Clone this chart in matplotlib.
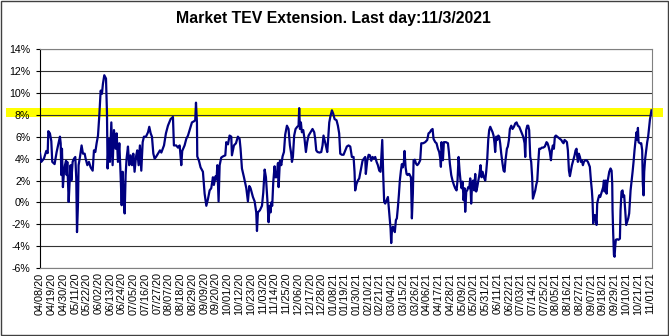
import numpy as np
import pandas as pd
import matplotlib
matplotlib.use("Agg")
import matplotlib.pyplot as plt
import matplotlib.dates as mdates
from matplotlib.patches import Rectangle
from matplotlib.transforms import blended_transform_factory

plt.rcParams.update({
    "font.family": ["Liberation Sans", "DejaVu Sans"],
})

title = "Market TEV Extension. Last day:11/3/2021"
start_day = "2020-04-08"
end_day = "2021-11-03"
label_step = "11D"

# days after start_day, and TEV extension in percent
day_offset = [
    0.0, 1.2, 3.7, 5.9, 7.2, 7.8, 9.3, 10.6, 11.5, 13.7, 15.6, 16.9, 18.7, 19.4, 20.0, 20.6,
    21.5, 22.5, 23.4, 24.4, 25.0, 25.6, 26.9, 27.8, 28.7, 29.4, 30.6, 31.9, 33.1, 34.0, 34.7,
    35.6, 36.2, 37.5, 39.0, 40.3, 41.9, 42.8, 44.4, 45.9, 47.5, 49.4, 50.6, 51.9, 53.1, 54.4,
    55.6, 56.9, 58.1, 59.0, 60.3, 61.9, 62.8, 63.4, 64.4, 65.6, 66.9, 68.1, 69.4, 70.9, 71.9,
    73.1, 74.4, 75.6, 76.6, 77.5, 78.4, 79.4, 80.3, 81.2, 82.5, 83.7, 85.0, 86.3, 87.5, 88.7,
    90.0, 91.2, 92.5, 93.7, 95.0, 96.3, 97.5, 99.4, 101.3, 102.5, 103.8, 105.0, 106.3, 107.5,
    108.8, 110.6, 112.5,
    113.8, 116.3, 118.1, 120.0, 122.5, 124.7, 125.6, 127.8, 129.4, 131.0, 132.5, 133.4, 135.6,
    137.2, 138.8, 141.3, 142.5, 144.4, 145.6, 146.3, 147.2, 147.5, 149.1, 150.6, 152.8, 154.4,
    156.0, 157.5, 159.1, 160.6, 162.2, 163.1, 164.7, 165.6, 166.3, 167.5, 168.5, 170.0, 171.6,
    173.8, 174.7, 176.3, 177.8, 179.4, 180.0, 181.9, 183.8, 185.6, 187.2, 188.1, 189.4, 191.3,
    193.5, 195.0, 196.3, 197.5, 199.7, 201.3, 202.8, 203.5, 204.4, 206.3, 208.2, 209.4, 210.7,
    211.9, 213.2, 214.4, 215.3, 216.3, 216.9, 217.8, 218.8, 220.0, 220.7, 221.9, 223.2, 223.8,
    225.0, 226.3, 227.5, 228.8, 230.0,
    231.6, 233.1, 234.4, 235.6, 236.3, 237.2, 238.4, 239.7, 241.3, 242.5, 243.1, 243.8, 244.7,
    245.6, 246.9, 248.1, 249.4, 250.6, 251.9, 253.8, 255.6, 257.2, 258.1, 259.1, 260.3, 262.2,
    263.8, 265.0, 265.9, 266.9, 268.1, 269.4, 270.0, 271.3, 272.5, 273.8, 275.0, 276.3, 278.1,
    279.4, 280.6, 281.6, 283.1, 284.7, 286.3, 287.8, 289.4, 291.0, 292.5, 294.1, 295.0, 295.6,
    296.9, 298.1, 299.4, 301.3, 302.5, 303.8, 305.0, 305.6, 306.9, 308.2, 309.4, 310.7, 311.9,
    313.2, 314.4, 315.7, 316.9, 318.2, 319.4, 320.3, 321.0, 321.9, 322.8, 323.8, 325.0, 326.3,
    327.2, 328.2, 328.8, 329.4, 330.0, 331.0, 331.9, 332.8, 333.8, 334.7, 335.7, 336.6, 337.5,
    338.5, 339.4, 340.3, 341.3, 341.9, 342.9, 343.8, 344.7, 345.7,
    346.3, 347.9, 348.8, 349.7, 350.4, 351.6, 352.6, 353.8, 355.1, 356.6, 357.6, 359.4, 361.3,
    363.2, 364.4, 365.7, 366.9, 368.2, 369.1, 370.7, 371.9, 373.2, 374.4, 375.4, 376.0, 376.6,
    377.9, 378.8, 380.7, 382.6, 383.5, 384.4, 385.7, 386.9, 388.2, 389.4, 390.7, 391.6, 392.6,
    393.5, 394.4, 395.4, 396.3, 397.3, 398.2, 398.8, 399.8, 400.7, 401.6, 402.6, 403.5, 404.4,
    405.4, 406.3, 407.3, 408.2, 409.1, 410.1, 411.0, 412.0, 413.2, 414.1, 415.1, 416.3, 417.6,
    418.5, 419.4, 420.4, 421.3, 422.3, 423.2, 424.5, 425.4, 426.3, 426.9, 427.9, 428.8, 429.8,
    430.7, 431.6, 432.6, 433.8, 434.8, 435.7, 436.6, 437.9, 438.8, 439.8, 440.7, 442.0, 443.2,
    444.5, 445.7, 447.0, 448.2, 449.5, 450.7, 452.0, 453.2, 454.5, 455.1, 456.0, 457.0, 457.9,
    458.8, 459.8, 460.7, 461.6, 462.3,
    464.5, 465.4, 466.4, 467.3, 468.2, 469.5, 470.7, 472.0, 473.5, 475.1, 476.0, 477.0, 478.2,
    479.2, 480.1, 481.0, 482.0, 482.9, 483.9, 485.1, 486.4, 487.6, 488.9, 490.1, 491.0, 492.0,
    493.2, 494.2, 495.1, 496.1, 497.0, 497.9, 498.9, 500.1, 501.4, 502.3, 503.2, 503.9, 504.5,
    505.4, 506.4, 507.3, 508.2, 509.2, 510.1, 511.4, 512.6, 513.9, 515.1, 515.7, 516.7, 517.6,
    518.2, 518.9, 519.5, 520.4, 521.4, 522.0, 522.6, 523.6, 524.5, 525.4, 526.4, 527.3, 528.2,
    528.9, 529.5, 530.1, 530.7, 531.4, 532.0, 532.9, 533.9, 535.1, 536.1, 536.7, 537.0, 537.6,
    538.3, 538.9, 539.5, 540.1, 541.4, 542.6, 543.9, 544.5, 545.4, 546.4, 547.0, 547.9, 548.9,
    549.8, 550.8, 551.7, 552.6, 553.3, 553.9, 554.8, 555.8, 556.7, 557.6, 558.6, 559.5, 560.1,
    560.8, 561.4, 562.6, 563.9, 564.8, 565.4, 566.1, 566.7, 567.6, 568.6, 569.5, 570.4, 571.4,
    572.0, 573.5,
]
tev_pct = [
    4.5, 3.7, 4.0, 4.7, 4.5, 6.5, 6.3, 5.6, 3.7, 3.5, 4.6, 5.2, 6.0, 5.4, 2.5, 4.9,
    1.4, 2.8, 3.4, 3.8, 2.5, 3.7, 0.05, 1.9, 3.4, 2.0, 3.7, 4.0, 4.15, 2.2, -2.7,
    -0.2, 3.4, 4.15, 5.2, 4.45, 4.45, 4.0, 3.4, 3.7, 3.2, 2.9, 4.75, 4.6, 5.4, 6.1,
    7.9, 10.2, 9.9, 10.8, 11.6, 11.3, 8.2, 3.1, 5.8, 3.7, 7.3, 3.4, 6.6, 4.9, 6.3,
    3.7, 5.4, 2.5, -0.25, 2.8, 0.7, -1.0, 2.5, 4.0, 5.1, 3.4, 4.3, 3.4, 4.45, 2.8,
    4.15, 4.75, 3.4, 5.2, 2.9, 5.5, 6.0, 6.0, 6.4, 6.9, 6.3, 6.0, 4.45, 4.0,
    4.15, 4.45, 4.75,
    4.55, 5.2, 6.3, 7.0, 7.6, 7.8, 5.2, 5.2, 5.0, 5.2, 3.4, 4.7, 5.2,
    5.8, 6.1, 6.9, 7.3, 7.4, 7.5, 9.1, 7.3, 4.2, 3.8, 3.2, 2.8, 0.8,
    -0.3, 0.3, 1.1, 1.3, 2.3, 1.6, 2.4, 2.1, 3.4, 0.1, 3.4, 4.1, 4.2,
    4.3, 5.5, 5.3, 6.1, 6.0, 4.3, 5.2, 5.4, 6.0, 5.8, 4.9, 3.1, 2.3,
    1.3, 0.1, 1.5, 1.3, 0.5, 0.1, -0.9, -2.6, -0.9, -0.7, -0.3, 0.9, 3.0,
    2.3, 0.3, -1.8, -0.3, -0.9, 0.0, -0.3, 1.9, 3.3, 2.3, 2.3, 3.6, 1.4,
    3.8, 3.4, 4.2, 4.6, 6.2,
    7.0, 6.7, 5.2, 4.45, 3.7, 4.15, 6.1, 6.7, 6.9, 7.0, 8.6, 6.7, 7.3,
    6.4, 6.6, 5.8, 4.6, 5.5, 6.1, 6.4, 6.7, 6.4, 5.8, 4.75, 4.6, 4.55,
    4.6, 5.2, 6.1, 5.7, 5.2, 4.6, 5.4, 7.3, 7.9, 8.4, 8.1, 7.6, 7.5,
    7.0, 6.3, 4.45, 4.35, 4.35, 4.75, 5.1, 5.2, 5.1, 4.15, 4.15, 2.8, 1.1,
    1.7, 2.0, 2.2, 3.2, 3.8, 4.0, 4.15, 2.6, 3.8, 4.35, 4.3, 3.8, 4.15,
    4.0, 4.15, 3.7, 3.4, 2.9, 2.8, 4.45, 5.7, 2.5, 0.05, -0.1, 0.2, 0.5,
    -0.55, -1.75, -2.4, -3.7, -2.7, -2.2, -2.4, -2.7, -1.6, -1.45, -0.4, 0.7, 2.0,
    2.9, 3.5, 3.2, 3.7, 4.7, 3.2, 2.6, 2.5, 2.6,
    2.6, 2.3, -1.45, 0.8, 3.85, 3.9, 3.55, 3.4, 3.55, 3.85, 5.4, 5.4, 5.5,
    5.7, 6.3, 6.4, 6.6, 6.7, 5.8, 5.5, 5.4, 4.9, 4.6, 4.0, 3.25, 5.5,
    3.85, 5.5, 5.5, 5.4, 4.6, 3.55, 2.5, 2.0, 1.6, 1.3, 1.1, 2.0, 4.15,
    2.9, 2.0, 1.3, 1.9, 0.2, 1.3, -0.85, 1.0, 1.1, 1.4, 1.3, 2.2, -0.1,
    1.9, 2.0, 1.1, 2.6, 1.0, 1.4, 1.9, 2.5, 3.4, 2.3, 2.8, 2.3, 2.0,
    2.8, 3.85, 5.7, 6.6, 6.9, 6.7, 6.4, 6.1, 5.4, 4.6, 6.0, 5.7, 6.1,
    6.0, 5.4, 4.45, 3.55, 2.9, 2.8, 3.85, 4.9, 5.1, 5.7, 6.7, 7.0, 6.7,
    6.9, 7.2, 7.3, 7.0, 6.9, 6.6, 6.3, 6.0, 5.4, 4.15, 6.6, 7.0, 7.0,
    6.6, 4.15, 3.7, 2.3, 0.35,
    1.1, 1.6, 2.0, 3.55, 4.9, 4.9, 5.0, 5.0, 5.1, 5.5, 5.4, 5.1, 4.6,
    3.85, 4.75, 5.2, 4.9, 6.0, 6.1, 6.0, 5.9, 5.8, 5.7, 5.5, 5.4, 5.7,
    5.6, 5.5, 4.75, 2.9, 2.4, 2.9, 3.4, 3.85, 4.3, 4.75, 4.9, 4.15, 3.7,
    4.45, 4.15, 3.7, 3.85, 3.4, 3.7, 3.85, 3.85, 3.7, 3.4, 3.25, 2.0, 1.1,
    0.2, -1.9, -1.15, -1.15, -1.6, -2.05, -0.1, 0.35, 0.65, 0.5, 0.8, 1.1, 1.4,
    2.0, 1.0, 1.4, 2.0, 0.8, 1.7, 2.2, 2.8, 3.1, 2.9, 1.7, -0.7, -2.8,
    -4.8, -4.95, -4.0, -3.4, -3.35, -3.4, -3.3, -0.7, 1.0, 1.1, 0.5, 0.65, -0.7,
    -2.05, -1.75, -1.45, -1.0, 0.2, 1.1, 1.9, 2.8, 3.7, 4.75, 5.7, 6.4, 5.7,
    6.8, 5.5, 5.4, 5.4, 4.75, 1.7, 0.65, 2.8, 4.0, 4.75, 5.5, 6.0, 6.9,
    7.5, 8.4,
]

y_ticks = list(range(-6, 15, 2))
band_low, band_high = 7.8, 8.6

fig = plt.figure(figsize=(6.69, 3.36), dpi=100)
ax = fig.add_axes([40 / 669, 67.7 / 336, 612 / 669, 219.4 / 336])

dates = pd.Timestamp(start_day) + pd.to_timedelta(day_offset, unit="D")
ax.plot(dates, tev_pct, color="#000080", lw=1.6, zorder=3)

# yellow highlight band, runs past the plot area on both sides
trans = blended_transform_factory(ax.transAxes, ax.transData)
ax.add_patch(Rectangle((-0.056, band_low), 1.074, band_high - band_low, transform=trans,
                       facecolor="#ffff00", edgecolor="none", clip_on=False, zorder=0.3))

ax.set_axisbelow(True)
ax.set_xlim(pd.Timestamp(start_day), pd.Timestamp(end_day))
ax.set_ylim(-6, 14)
ax.set_yticks(y_ticks)
ax.set_yticklabels([f"{v}%" for v in y_ticks])
ax.yaxis.grid(True, color="#333333", lw=0.8)

label_dates = pd.date_range(start_day, end_day, freq=label_step)
ax.set_xticks(label_dates)
ax.xaxis.set_major_formatter(mdates.DateFormatter("%m/%d/%y"))
ax.tick_params(axis="x", length=0, pad=3, labelsize=7.8, labelrotation=90)
ax.tick_params(axis="y", length=3, width=0.8, pad=4, labelsize=7.7)

for side in ["top", "right", "bottom"]:
    ax.spines[side].set_color("#808080")
    ax.spines[side].set_linewidth(0.8)
ax.spines["left"].set_color("black")
ax.spines["left"].set_linewidth(0.8)

fig.text(333 / 669, 1 - 18 / 336, title, ha="center", va="center", fontsize=11.4, fontweight="bold")
fig.add_artist(Rectangle((0.001, 0.002), 0.997, 0.995, transform=fig.transFigure,
                         fill=False, edgecolor="#404040", lw=1))

fig.savefig("out.png", dpi=100)
